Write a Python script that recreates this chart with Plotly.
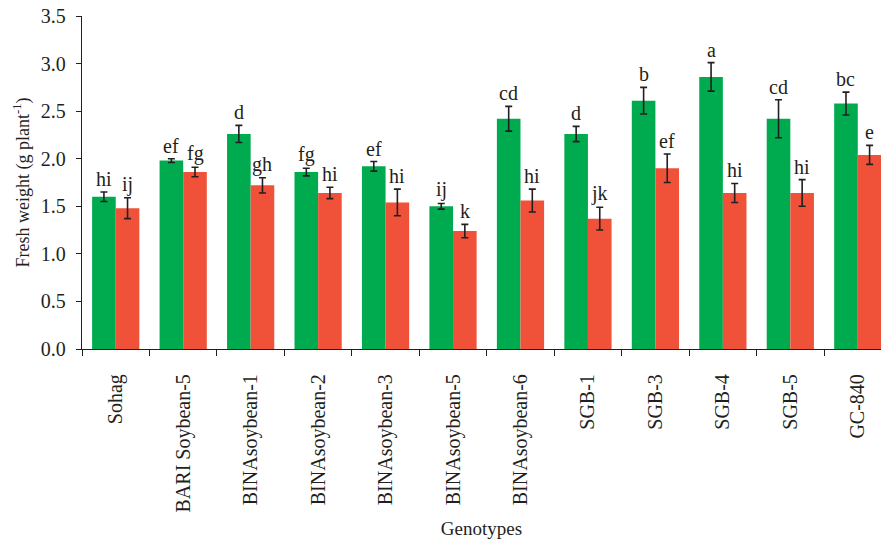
import plotly.graph_objects as go

# Genotypes and fresh weight (g plant^-1) for the two treatments
genotypes = ["Sohag", "BARI Soybean-5", "BINAsoybean-1", "BINAsoybean-2",
             "BINAsoybean-3", "BINAsoybean-5", "BINAsoybean-6", "SGB-1",
             "SGB-3", "SGB-4", "SGB-5", "GC-840"]

green_vals = [1.60, 1.98, 2.26, 1.86, 1.92, 1.50, 2.42, 2.26, 2.61, 2.86, 2.42, 2.58]
green_err = [0.05, 0.02, 0.09, 0.04, 0.05, 0.03, 0.13, 0.08, 0.14, 0.15, 0.20, 0.12]
green_letters = ["hi", "ef", "d", "fg", "ef", "ij", "cd", "d", "b", "a", "cd", "bc"]

red_vals = [1.48, 1.86, 1.72, 1.64, 1.54, 1.24, 1.56, 1.37, 1.90, 1.64, 1.64, 2.04]
red_err = [0.11, 0.05, 0.08, 0.06, 0.14, 0.07, 0.12, 0.12, 0.15, 0.10, 0.14, 0.10]
red_letters = ["ij", "fg", "gh", "hi", "hi", "k", "hi", "jk", "ef", "hi", "hi", "e"]

GREEN = "#00ab4f"
RED = "#ef5239"
INK = "#231f20"
FONT = "Liberation Serif"
BARGAP = 0.3

err_style = dict(type="data", thickness=1.6, width=3.5, color=INK)

fig = go.Figure()
fig.add_trace(go.Bar(x=genotypes, y=green_vals, marker_color=GREEN,
                     marker_line_width=0,
                     error_y=dict(array=green_err, **err_style)))
fig.add_trace(go.Bar(x=genotypes, y=red_vals, marker_color=RED,
                     marker_line_width=0,
                     error_y=dict(array=red_err, **err_style)))

# significance letters above each error bar
half = (1 - BARGAP) / 4
for i in range(len(genotypes)):
    for off, v, e, t in ((-half, green_vals[i], green_err[i], green_letters[i]),
                         (half, red_vals[i], red_err[i], red_letters[i])):
        fig.add_annotation(x=i + off, y=v + e, text=t, showarrow=False,
                           yanchor="bottom", yshift=0,
                           font=dict(family=FONT, size=20, color=INK))

fig.update_layout(
    width=881, height=544,
    margin=dict(l=82, r=0, t=16, b=195),
    barmode="group", bargap=BARGAP, bargroupgap=0,
    plot_bgcolor="white", paper_bgcolor="white",
    showlegend=False,
    font=dict(family=FONT, size=19, color=INK),
)
fig.update_xaxes(
    range=[-0.5, 11.344],
    tickson="boundaries", ticks="outside", ticklen=6, tickwidth=1.3,
    tickcolor=INK, showline=True, linecolor=INK, linewidth=1.3,
    tickangle=-90, ticklabelstandoff=16,
    tickfont=dict(family=FONT, size=20, color=INK),
    title=dict(text="Genotypes", font=dict(family=FONT, size=19, color=INK),
               standoff=10),
    showgrid=False,
)
fig.update_yaxes(
    range=[0, 3.5], dtick=0.5, tickformat=".1f",
    ticks="outside", ticklen=5, tickwidth=1.3, tickcolor=INK,
    showline=True, linecolor=INK, linewidth=1.3, ticklabelstandoff=6,
    tickfont=dict(family=FONT, size=20, color=INK),
    title=dict(text="Fresh weight (g plant<sup>-1</sup>)",
               font=dict(family=FONT, size=18, color=INK), standoff=6),
    showgrid=False, zeroline=False,
)

fig.write_html("out.html")
